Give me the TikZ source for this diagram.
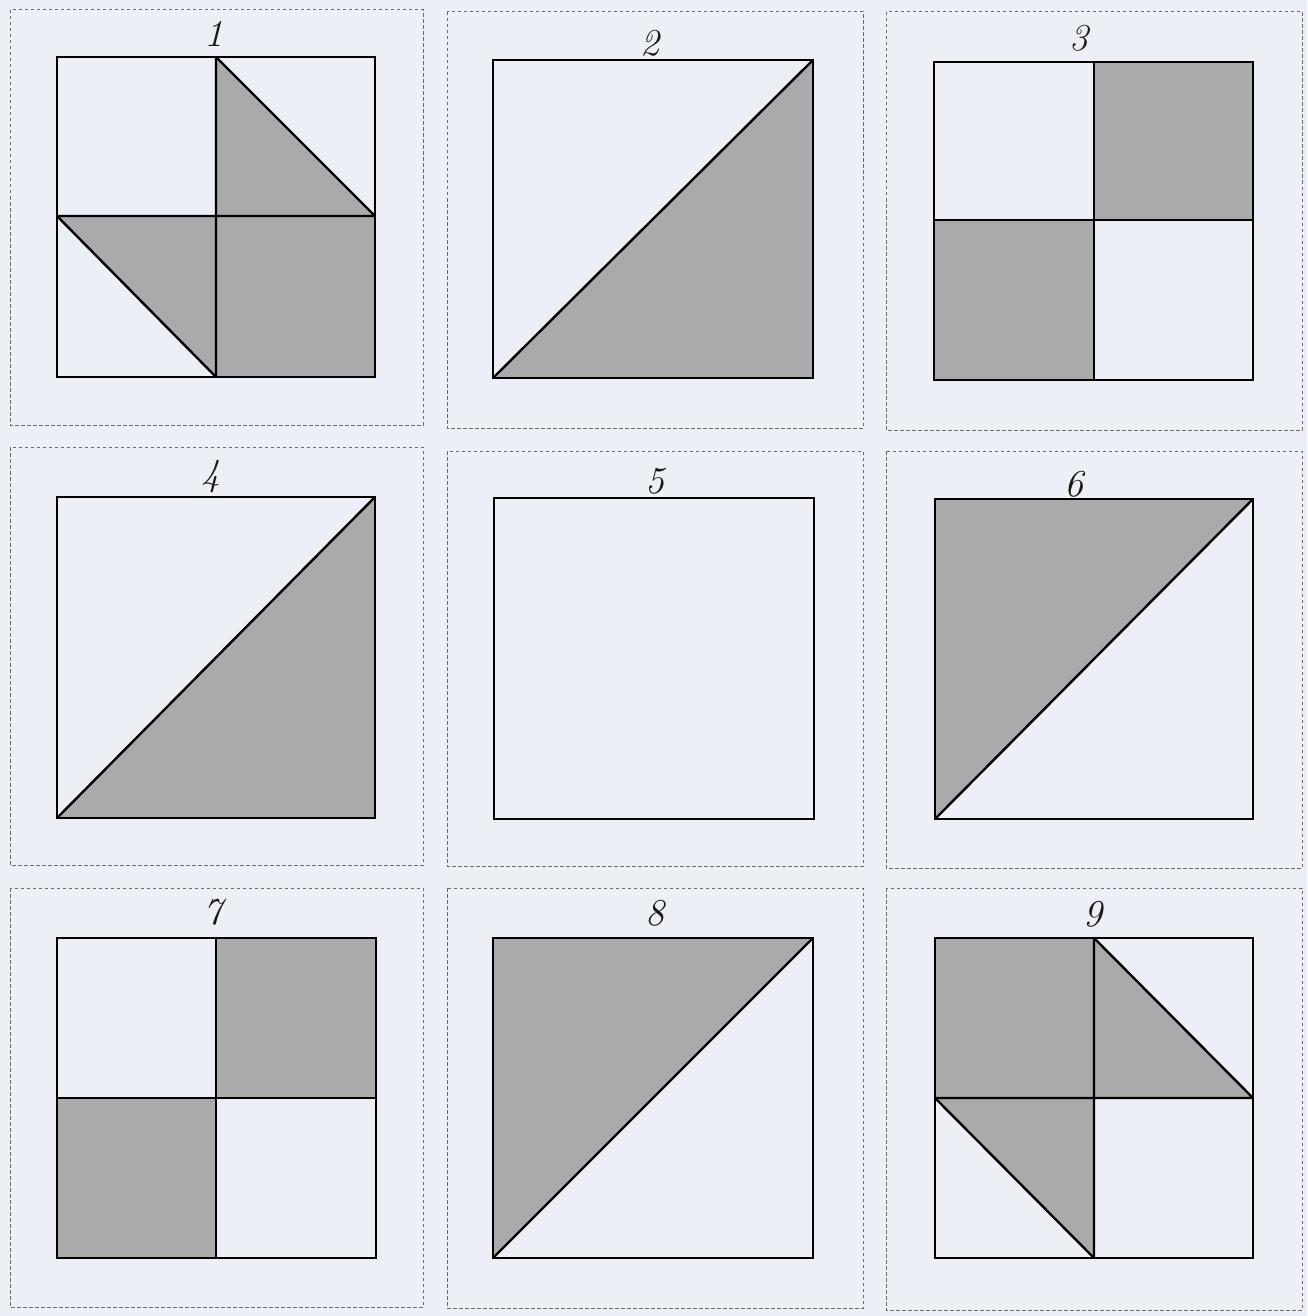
\documentclass[tikz,border=0pt]{standalone}
\definecolor{bg}{RGB}{237,239,247}
\definecolor{shade}{RGB}{170,170,173}
\definecolor{framegray}{RGB}{105,105,110}
\begin{document}
\begin{tikzpicture}[x=1pt,y=-1pt,
  sq/.style={draw=black,line width=2.4pt,line join=miter},
  sh/.style={fill=shade},
  panel/.style={draw=framegray,line width=1pt,dash pattern=on 3.5pt off 2.5pt},
  lab/.style={font=\fontsize{38}{40}\selectfont\itshape,text=black!90,inner sep=0pt}]
\fill[bg] (0,0) rectangle (1307,1316);
\useasboundingbox (0,0) rectangle (1307,1316);
% panels
\draw[panel] (10,10) rectangle (423,425);
\draw[panel] (447,12) rectangle (863,428);
\draw[panel] (886,12) rectangle (1302,430);
\draw[panel] (10,447) rectangle (423,865);
\draw[panel] (447,451) rectangle (863,866);
\draw[panel] (886,451) rectangle (1302,868);
\draw[panel] (10,888) rectangle (423,1307);
\draw[panel] (447,888) rectangle (863,1308);
\draw[panel] (886,888) rectangle (1302,1310);
% 1
\fill[sh] (216,57)--(216,216)--(375,216)--cycle;
\fill[sh] (57,216)--(216,216)--(216,377)--cycle;
\fill[sh] (216,216) rectangle (375,377);
\draw[sq] (57,57) rectangle (375,377);
\draw[sq] (216,57)--(216,377) (57,216)--(375,216) (216,57)--(375,216) (57,216)--(216,377);
\node[lab] (l1) at (214,34) {1};
% 2
\fill[sh] (493,378)--(813,60)--(813,378)--cycle;
\draw[sq] (493,60) rectangle (813,378);
\draw[sq] (493,378)--(813,60);
\node[lab] (l2) at (650,43) {2};
% 3
\fill[sh] (1094,62) rectangle (1253,220);
\fill[sh] (934,220) rectangle (1094,380);
\draw[sq] (934,62) rectangle (1253,380);
\draw[sq] (1094,62)--(1094,380) (934,220)--(1253,220);
\node[lab] (l3) at (1079,38) {3};
% 4
\fill[sh] (57,818)--(375,497)--(375,818)--cycle;
\draw[sq] (57,497) rectangle (375,818);
\draw[sq] (57,818)--(375,497);
\node[lab] (l4) at (211,477) {4};
% 5
\draw[sq] (494,498) rectangle (814,819);
\node[lab] (l5) at (655,481) {5};
% 6
\fill[sh] (935,819)--(935,499)--(1253,499)--cycle;
\draw[sq] (935,499) rectangle (1253,819);
\draw[sq] (935,819)--(1253,499);
\node[lab] (l6) at (1074,484) {6};
% 7
\fill[sh] (216,938) rectangle (376,1098);
\fill[sh] (57,1098) rectangle (216,1258);
\draw[sq] (57,938) rectangle (376,1258);
\draw[sq] (216,938)--(216,1258) (57,1098)--(376,1098);
\node[lab] (l7) at (213,912) {7};
% 8
\fill[sh] (493,1258)--(493,938)--(813,938)--cycle;
\draw[sq] (493,938) rectangle (813,1258);
\draw[sq] (493,1258)--(813,938);
\node[lab] (l8) at (655,913) {8};
% 9
\fill[sh] (935,938) rectangle (1094,1098);
\fill[sh] (1094,938)--(1094,1098)--(1253,1098)--cycle;
\fill[sh] (935,1098)--(1094,1098)--(1094,1258)--cycle;
\draw[sq] (935,938) rectangle (1253,1258);
\draw[sq] (1094,938)--(1094,1258) (935,1098)--(1253,1098) (1094,938)--(1253,1098) (935,1098)--(1094,1258);
\node[lab] (l9) at (1093,914) {9};
\end{tikzpicture}
\end{document}
